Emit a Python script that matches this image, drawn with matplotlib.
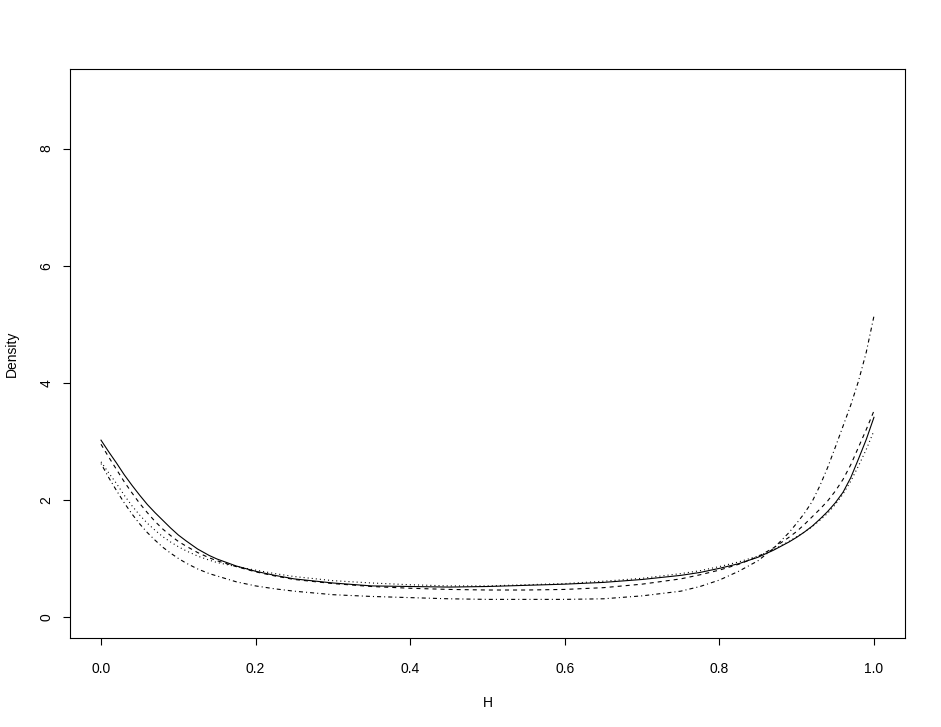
import matplotlib
matplotlib.use("Agg")
import matplotlib.pyplot as plt

plt.rcParams['font.family'] = ['Liberation Sans', 'DejaVu Sans']
plt.rcParams['lines.scale_dashes'] = False

h = [0.0, 0.01, 0.02, 0.03, 0.04, 0.05, 0.06, 0.07, 0.08, 0.09, 0.1, 0.11,
     0.125, 0.14, 0.15, 0.175,
     0.2, 0.225,
     0.25, 0.3, 0.35, 0.4, 0.45, 0.5, 0.55, 0.6, 0.65, 0.7, 0.75,
     0.775,
     0.8, 0.825, 0.85,
     0.87, 0.89,
     0.9, 0.91, 0.92, 0.93, 0.94, 0.95, 0.96, 0.97, 0.98, 0.99, 1.0]

dens_solid = [3.02, 2.82, 2.63, 2.43, 2.25, 2.08, 1.92, 1.78, 1.65, 1.52, 1.40, 1.30,
              1.16, 1.05, 0.99, 0.87,
              0.78, 0.71,
              0.65, 0.58, 0.53, 0.52, 0.51, 0.52, 0.54, 0.56, 0.59, 0.64, 0.71,
              0.76,
              0.83, 0.91, 1.02,
              1.14, 1.28,
              1.36, 1.45, 1.55, 1.67, 1.80, 1.95, 2.13, 2.38, 2.70, 3.03, 3.41]

dens_dashed = [2.95, 2.73, 2.52, 2.31, 2.12, 1.94, 1.78, 1.63, 1.50, 1.39, 1.29, 1.21,
               1.10, 1.01, 0.96, 0.86,
               0.77, 0.70,
               0.64, 0.57, 0.52, 0.49, 0.47, 0.46, 0.46, 0.47, 0.50, 0.56, 0.65,
               0.72,
               0.80, 0.90, 1.03,
               1.18, 1.36,
               1.46, 1.58, 1.71, 1.84, 1.98, 2.15, 2.35, 2.60, 2.90, 3.20, 3.52]

dens_dotted = [2.65, 2.46, 2.28, 2.08, 1.90, 1.74, 1.60, 1.48, 1.37, 1.28, 1.20, 1.13,
               1.04, 0.97, 0.93, 0.86,
               0.80, 0.74,
               0.69, 0.62, 0.58, 0.55, 0.53, 0.53, 0.55, 0.57, 0.61, 0.66, 0.74,
               0.79,
               0.86, 0.94, 1.04,
               1.15, 1.29,
               1.37, 1.45, 1.54, 1.65, 1.77, 1.92, 2.10, 2.32, 2.58, 2.86, 3.18]

dens_dotdash = [2.62, 2.38, 2.16, 1.95, 1.76, 1.59, 1.44, 1.31, 1.19, 1.09, 1.00, 0.92,
                0.82, 0.74, 0.70, 0.60,
                0.53, 0.48,
                0.44, 0.38, 0.35, 0.33, 0.31, 0.30, 0.30, 0.30, 0.31, 0.36, 0.44,
                0.52,
                0.63, 0.78, 0.96,
                1.17, 1.44,
                1.60, 1.77, 1.97, 2.24, 2.55, 2.90, 3.26, 3.62, 4.03, 4.52, 5.14]

fig = plt.figure(figsize=(9.41, 7.27), dpi=100)
ax = fig.add_axes([0.0744, 0.1224, 0.8873, 0.7827])

lw = 0.8
ax.plot(h, dens_solid, color='black', lw=lw, linestyle='-')
ax.plot(h, dens_dashed, color='black', lw=lw, linestyle=(0, (2.9, 2.9)))
ax.plot(h, dens_dotted, color='black', lw=lw, linestyle=(0, (0.75, 2.2)))
ax.plot(h, dens_dotdash, color='black', lw=lw, linestyle=(0, (0.75, 2.2, 2.9, 2.2)))

ax.set_xlim(-0.0401, 1.0401)
ax.set_ylim(-0.36, 9.36)
ax.set_xticks([0.0, 0.2, 0.4, 0.6, 0.8, 1.0])
ax.set_xticklabels(["0.0", "0.2", "0.4", "0.6", "0.8", "1.0"])
ax.set_yticks([0, 2, 4, 6, 8])
ax.tick_params(axis='both', length=5, width=0.8, labelsize=10, direction='out')
ax.tick_params(axis='x', pad=12)
ax.tick_params(axis='y', pad=7)
for lbl in ax.get_yticklabels():
    lbl.set_rotation(90)
    lbl.set_va('center')
for s in ax.spines.values():
    s.set_linewidth(0.8)

ax.set_xlabel("H", fontsize=10, labelpad=15)
ax.set_ylabel("Density", fontsize=10, labelpad=15)

fig.savefig("out.png", dpi=100)
